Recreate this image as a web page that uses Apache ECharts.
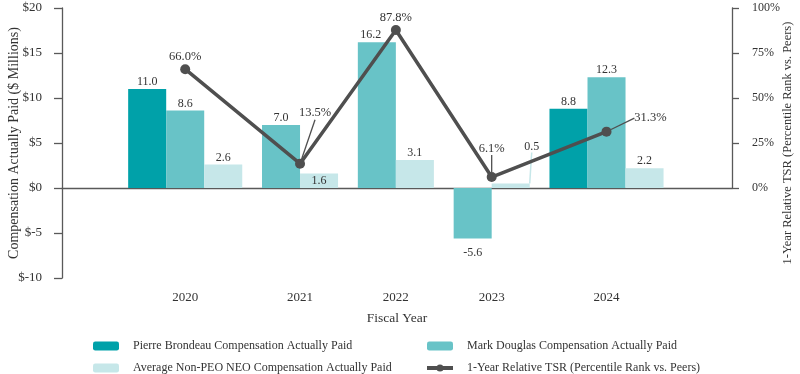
<!DOCTYPE html>
<html><head><meta charset="utf-8">
<script src="https://cdn.jsdelivr.net/npm/echarts@6/dist/echarts.min.js"></script>
<style>html,body{margin:0;padding:0;background:#fff}#c{width:800px;height:374px}</style>
</head><body><div id="c"></div>
<script>
// ---- data ----
const years = ['2020', '2021', '2022', '2023', '2024'];
const pierreCAP = [11.0, null, null, null, 8.8];
const markCAP = [8.6, 7.0, 16.2, -5.6, 12.3];
const avgNeoCAP = [2.6, 1.6, 3.1, 0.5, 2.2];
const relativeTSR = [66.0, 13.5, 87.8, 6.1, 31.3];
const compTicks = [-10, -5, 0, 5, 10, 15, 20];
const tsrTicks = [0, 25, 50, 75, 100];

const NAME_P = 'Pierre Brondeau Compensation Actually Paid';
const NAME_M = 'Mark Douglas Compensation Actually Paid';
const NAME_A = 'Average Non-PEO NEO Compensation Actually Paid';
const NAME_T = '1-Year Relative TSR (Percentile Rank vs. Peers)';

// ---- styling / layout ----
const FONT = '"Liberation Serif", "DejaVu Serif", serif';
const TXT = '#333333';
const AXIS = '#595959';
const COLORS = { P: '#00A1A9', M: '#68C3C7', A: '#C6E7E9', T: '#4F4F4F' };
const GROUP_GAP = 0.52, EDGE_L = 1.74, EDGE_R = 1.8; // in bar-width units

const barDefs = [
  { key: 'P', name: NAME_P, values: pierreCAP },
  { key: 'M', name: NAME_M, values: markCAP },
  { key: 'A', name: NAME_A, values: avgNeoCAP }
];

// group layout: each year's group is as wide as its non-empty bars
let cursor = EDGE_L;
const centers = [];
const barX = barDefs.map(() => []);
years.forEach((y, i) => {
  let j = 0;
  barDefs.forEach((s, k) => {
    if (s.values[i] != null) { barX[k][i] = cursor + j + 0.5; j++; }
  });
  centers.push(cursor + j / 2);
  cursor += j + GROUP_GAP;
});
const xMax = cursor - GROUP_GAP + EDGE_R;

// label nudges (dx, dy) and leader lines
const labelMoves = {
  M: { 2: [-6, 0] },
  A: { 1: [0, 14], 3: [21, -30] },
  T: { 1: [15, -38], 3: [0, -16], 4: [44, -1] }
};
const leaderItems = { A: [3], T: [1, 3, 4] };

const barSeries = barDefs.map((s, k) => {
  const data = [];
  const keptIdx = [];
  s.values.forEach((v, i) => {
    if (v == null) return;
    const item = { value: [barX[k][i], v] };
    if (v < 0) item.label = { position: 'bottom', distance: 8 };
    if ((leaderItems[s.key] || []).includes(i)) item.labelLine = { show: true };
    data.push(item);
    keptIdx.push(i);
  });
  const moves = labelMoves[s.key] || {};
  return {
    type: 'bar', name: s.name, xAxisIndex: 0, yAxisIndex: 0,
    barWidth: '100%', barGap: '-100%',
    itemStyle: { color: COLORS[s.key] },
    data,
    label: {
      show: true, position: 'top', distance: 1,
      fontFamily: FONT, fontSize: 12, color: TXT,
      formatter: p => p.value[1].toFixed(1)
    },
    labelLine: { show: false, lineStyle: { color: COLORS[s.key], width: 1.5 } },
    labelLayout: p => {
      const m = moves[keptIdx[p.dataIndex]];
      return m ? { dx: m[0], dy: m[1] } : {};
    }
  };
});

const tsrSeries = {
  type: 'line', name: NAME_T, xAxisIndex: 2, yAxisIndex: 2,
  data: relativeTSR.map((v, i) => {
    const item = { value: [centers[i], v] };
    if (leaderItems.T.includes(i)) item.labelLine = { show: true };
    return item;
  }),
  symbol: 'circle', symbolSize: 10,
  lineStyle: { color: COLORS.T, width: 3.5 },
  itemStyle: { color: COLORS.T },
  z: 5,
  label: {
    show: true, position: 'top', distance: 1,
    fontFamily: FONT, fontSize: 12.5, color: TXT,
    formatter: p => p.value[1].toFixed(1) + '%'
  },
  labelLine: { show: false, lineStyle: { color: COLORS.T, width: 1.3 } },
  labelLayout: p => {
    const m = labelMoves.T[p.dataIndex];
    return m ? { dx: m[0], dy: m[1] } : {};
  }
};

const axisLineStyle = { color: AXIS, width: 1.3 };
const nearestYear = v => {
  let best = 0;
  centers.forEach((c, i) => { if (Math.abs(c - v) < Math.abs(centers[best] - v)) best = i; });
  return years[best];
};

const legendBase = {
  top: 340, padding: 0, orient: 'vertical', itemGap: 10, itemWidth: 26, itemHeight: 9,
  lineStyle: { width: 4 },
  textStyle: { fontFamily: FONT, fontSize: 12, color: TXT, padding: [0, 0, 0, 9] }
};

const option = {
  animation: false,
  backgroundColor: '#fff',
  textStyle: { fontFamily: FONT, color: TXT },
  grid: [
    { left: 62, right: 68, top: 8, bottom: 96, outerBoundsMode: 'none' },
    { left: 62, right: 68, top: 8, bottom: 186, outerBoundsMode: 'none' }
  ],
  xAxis: [
    { gridIndex: 0, type: 'value', position: 'bottom', min: 0, max: xMax,
      axisLine: { show: true, onZero: true, lineStyle: axisLineStyle },
      axisTick: { show: false }, axisLabel: { show: false }, splitLine: { show: false } },
    { gridIndex: 0, type: 'value', position: 'bottom', min: 0, max: xMax,
      axisLine: { show: false, onZero: false }, axisTick: { show: false }, splitLine: { show: false },
      axisLabel: { customValues: centers, formatter: nearestYear, margin: 13,
                   fontFamily: FONT, fontSize: 13, color: TXT },
      name: 'Fiscal Year', nameLocation: 'middle', nameGap: 33, nameMoveOverlap: false,
      nameTextStyle: { fontFamily: FONT, fontSize: 13.5, color: TXT } },
    { gridIndex: 1, type: 'value', min: 0, max: xMax, show: false }
  ],
  yAxis: [
    { gridIndex: 0, type: 'value', position: 'left', min: compTicks[0], max: compTicks[compTicks.length - 1], interval: 5,
      axisLine: { show: true, onZero: false, lineStyle: axisLineStyle },
      axisTick: { show: true, inside: false, length: 8, lineStyle: axisLineStyle },
      axisLabel: { customValues: compTicks, formatter: v => '$' + v, margin: 20, fontFamily: FONT, fontSize: 13, color: TXT },
      splitLine: { show: false },
      name: 'Compensation Actually Paid ($ Millions)', nameLocation: 'middle', nameGap: 41, nameMoveOverlap: false,
      nameTextStyle: { fontFamily: FONT, fontSize: 14, color: TXT } },
    { gridIndex: 0, type: 'value', position: 'right', min: 0, max: 1,
      axisLine: { show: false }, axisTick: { show: false }, axisLabel: { show: false }, splitLine: { show: false },
      name: NAME_T, nameLocation: 'middle', nameGap: 49, nameMoveOverlap: false,
      nameTextStyle: { fontFamily: FONT, fontSize: 12.5, color: TXT } },
    { gridIndex: 1, type: 'value', position: 'right', min: tsrTicks[0], max: tsrTicks[tsrTicks.length - 1], interval: 25,
      axisLine: { show: true, onZero: false, lineStyle: axisLineStyle },
      axisTick: { show: true, inside: false, length: 7, lineStyle: axisLineStyle },
      axisLabel: { customValues: tsrTicks, formatter: v => v + '%', margin: 20, fontFamily: FONT, fontSize: 12, color: TXT },
      splitLine: { show: false } }
  ],
  legend: [
    Object.assign({}, legendBase, { left: 93, data: [NAME_P, NAME_A] }),
    Object.assign({}, legendBase, { left: 425, data: [NAME_M, NAME_T] })
  ],
  series: [...barSeries, tsrSeries]
};

const chart = echarts.init(document.getElementById('c'), null, { renderer: 'canvas' });
chart.setOption(option);
</script>
</body></html>
